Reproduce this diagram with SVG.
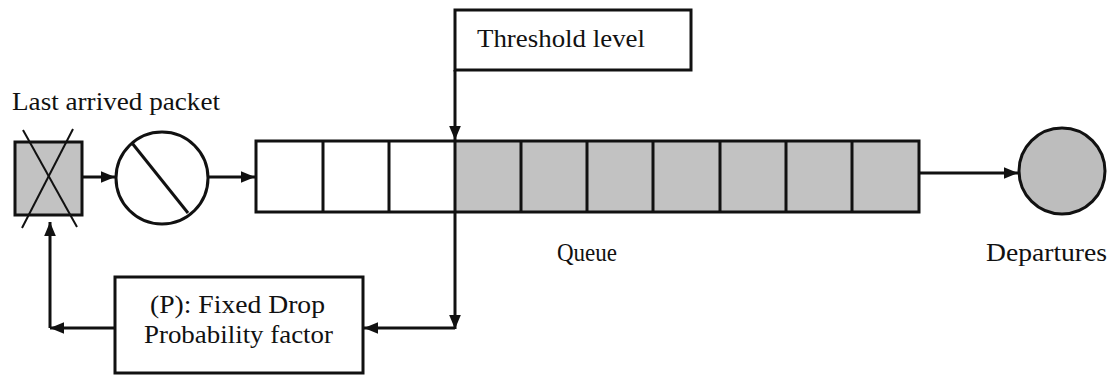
<svg xmlns="http://www.w3.org/2000/svg" width="1107" height="378" viewBox="0 0 1107 378">
<style>
text{font-family:"Liberation Serif","Times New Roman",Times,serif;font-size:25px;fill:#111}
.ln{stroke:#111;stroke-width:3;fill:none}
.bx{stroke:#111;stroke-width:3;fill:#fff}
.cell{stroke:#111;stroke-width:3;fill:#c2c2c2}
</style>
<defs>
<marker id="a" viewBox="0 0 12 10" refX="12" refY="5" markerWidth="14" markerHeight="12" markerUnits="userSpaceOnUse" orient="auto">
<path d="M0,0 L12,5 L0,10 z" fill="#111"/>
</marker>
</defs>
<g id="label-last">
<text x="12" y="110" textLength="208" lengthAdjust="spacingAndGlyphs">Last arrived packet</text>
</g>
<g id="dropped-packet">
<rect x="15" y="142" width="67" height="73" class="cell"/>
<line x1="23" y1="130" x2="77" y2="227" stroke="#111" stroke-width="2"/>
<line x1="73" y1="129" x2="22" y2="228" stroke="#111" stroke-width="2"/>
</g>
<g id="gate">
<circle cx="162" cy="178" r="46" class="bx"/>
<line x1="132" y1="143" x2="188" y2="213" stroke="#111" stroke-width="3"/>
</g>
<g id="queue">
<rect x="256" y="141" width="663" height="71" fill="#fff"/>
<rect x="455" y="141" width="464" height="71" fill="#c2c2c2"/>
<rect x="256" y="141" width="663" height="71" class="ln" stroke-width="4"/>
<path class="ln" d="M323,141V212M389,141V212M455,141V212M521,141V212M587,141V212M653,141V212M720,141V212M786,141V212M852,141V212"/>
<text x="557" y="261" textLength="60" lengthAdjust="spacingAndGlyphs">Queue</text>
</g>
<g id="threshold">
<rect x="455" y="10" width="236" height="60" class="bx"/>
<text x="477" y="47" textLength="168" lengthAdjust="spacingAndGlyphs">Threshold level</text>
</g>
<g id="drop-prob">
<rect x="115" y="277" width="248" height="96" class="bx"/>
<text x="150" y="313" textLength="175" lengthAdjust="spacingAndGlyphs">(P): Fixed Drop</text>
<text x="144" y="343" textLength="189" lengthAdjust="spacingAndGlyphs">Probability factor</text>
</g>
<g id="departures">
<circle cx="1062" cy="171" r="43" stroke="#111" stroke-width="3" fill="#bdbdbd"/>
<text x="986" y="261" textLength="121" lengthAdjust="spacingAndGlyphs">Departures</text>
</g>
<g id="connectors">
<line x1="82" y1="177" x2="115" y2="177" class="ln" marker-end="url(#a)"/>
<line x1="208" y1="177" x2="255" y2="177" class="ln" marker-end="url(#a)"/>
<line x1="919" y1="173" x2="1018" y2="173" class="ln" marker-end="url(#a)"/>
<line x1="455" y1="70" x2="455" y2="140" class="ln" marker-end="url(#a)"/>
<line x1="455" y1="212" x2="455" y2="329" class="ln" marker-end="url(#a)"/>
<line x1="455" y1="328" x2="364" y2="328" class="ln" marker-end="url(#a)"/>
<line x1="115" y1="328" x2="50" y2="328" class="ln" marker-end="url(#a)"/>
<line x1="50" y1="328" x2="50" y2="222" class="ln" marker-end="url(#a)"/>
</g>
</svg>
